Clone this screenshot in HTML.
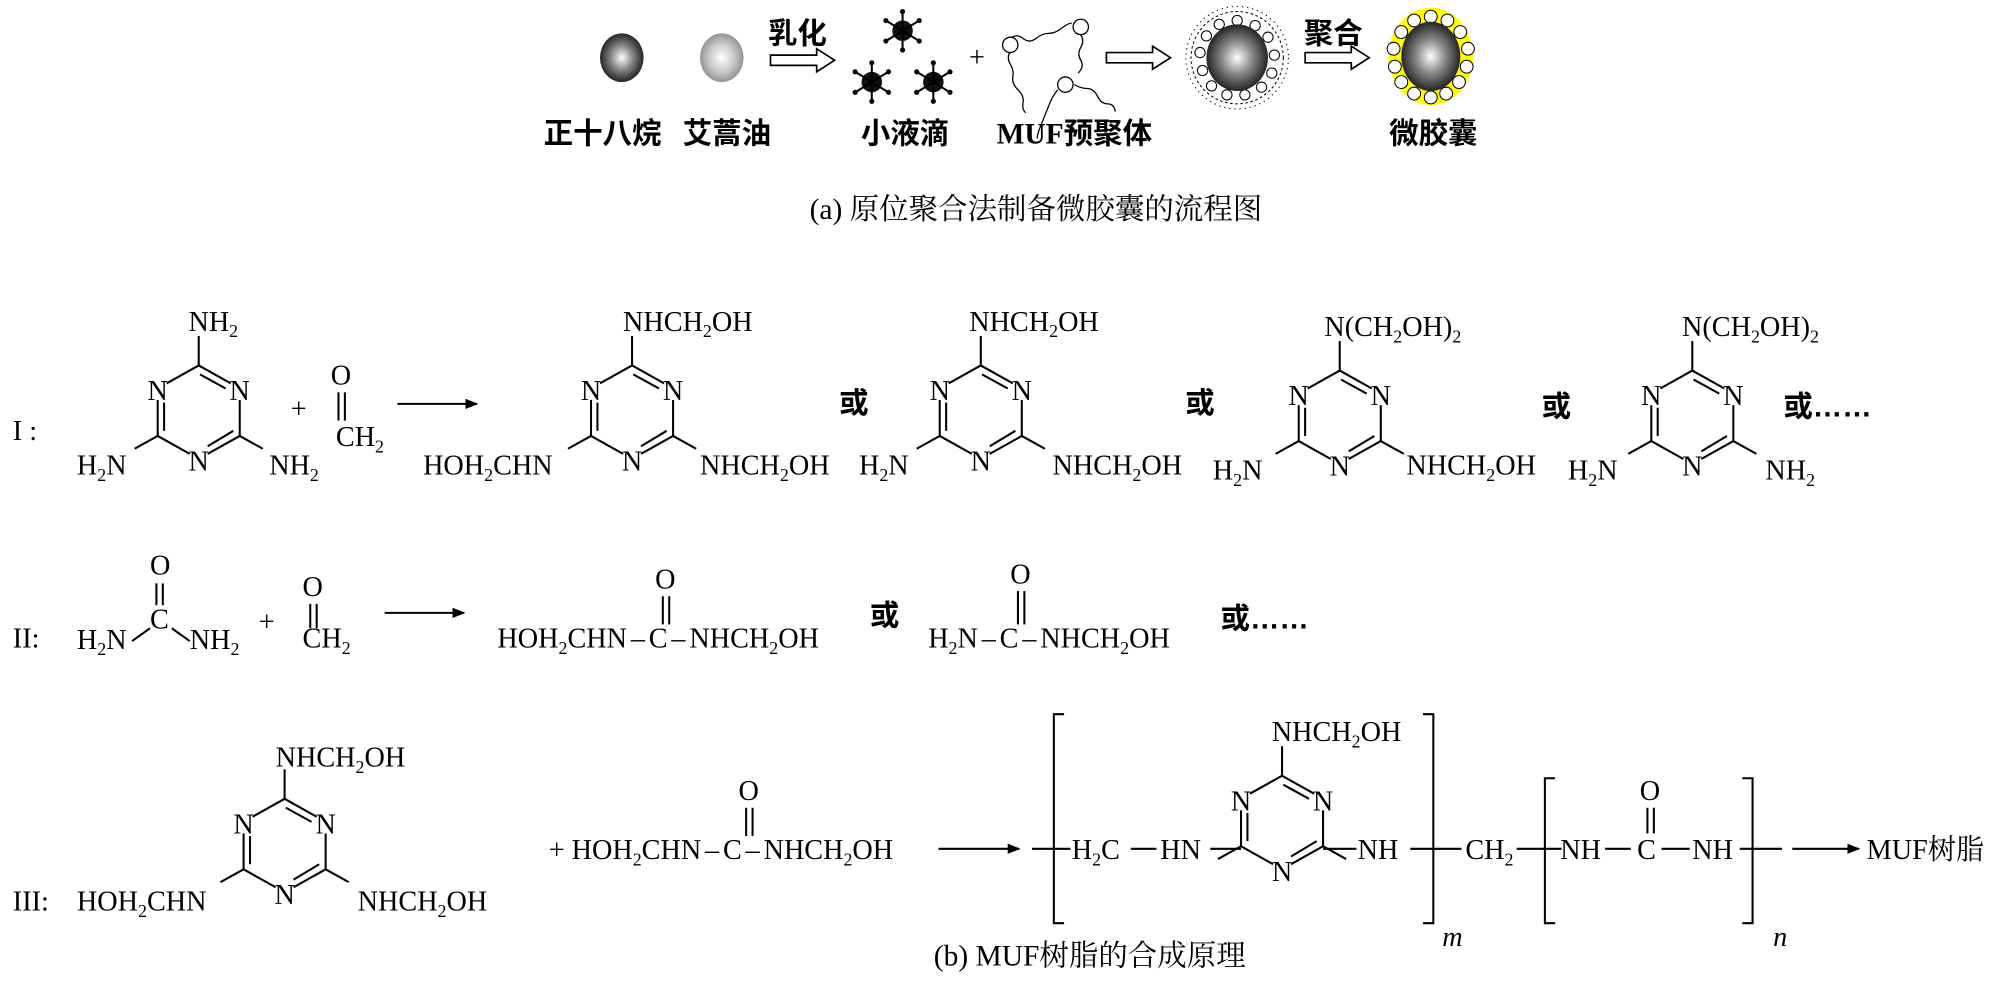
<!DOCTYPE html>
<html><head><meta charset="utf-8"><style>
html,body{margin:0;padding:0;background:#fff;}
svg{display:block;}
text{font-family:"Liberation Serif","Noto Serif CJK SC",serif;fill:#000;}
.c{font-size:22px;}
.cn{font-family:"Liberation Sans","Noto Sans CJK SC",sans-serif;font-weight:bold;font-size:23px;}
.cap{font-family:"Liberation Serif","Noto Serif CJK SC",serif;font-size:23px;}
line,path.b{stroke:#000;stroke-width:1.6;fill:none;}
</style></head><body>
<svg width="2000" height="986" viewBox="0 0 1560 769" preserveAspectRatio="none" xmlns="http://www.w3.org/2000/svg">
<defs>
<radialGradient id="dk" cx="0.5" cy="0.5" r="0.55"><stop offset="0" stop-color="#fff"/><stop offset="0.45" stop-color="#888"/><stop offset="1" stop-color="#111"/></radialGradient>
<radialGradient id="lt" cx="0.5" cy="0.5" r="0.55"><stop offset="0" stop-color="#fff"/><stop offset="0.5" stop-color="#ccc"/><stop offset="1" stop-color="#888"/></radialGradient>
<marker id="ah" markerWidth="10" markerHeight="8" refX="9" refY="4" orient="auto" markerUnits="userSpaceOnUse"><path d="M0,0 L10,4 L0,8 Z" fill="#000"/></marker>
<g id="ring">
<line x1="0" y1="-37" x2="-25" y2="-23"/>
<line x1="0" y1="-37" x2="25" y2="-23"/><line x1="1" y1="-30" x2="21" y2="-19"/>
<line x1="-32" y1="-10" x2="-32" y2="18"/><line x1="-27" y1="-8" x2="-27" y2="14"/>
<line x1="-32" y1="18" x2="-7" y2="32"/>
<line x1="32" y1="18" x2="7" y2="32"/><line x1="27" y1="14" x2="7" y2="26"/>
<line x1="32" y1="18" x2="32" y2="-10"/>
<text class="c" x="-32" y="-10" text-anchor="middle">N</text>
<text class="c" x="32" y="-10" text-anchor="middle">N</text>
<text class="c" x="0" y="45" text-anchor="middle">N</text>
<line x1="0" y1="-37" x2="0" y2="-60"/>
<line x1="-32" y1="18" x2="-50" y2="28"/>
<line x1="32" y1="18" x2="50" y2="28"/>
</g>
<g id="drop"><circle r="8" fill="#111"/>
<g stroke="#000" stroke-width="1.2"><line x1="0" y1="0" x2="0" y2="-15"/><line x1="0" y1="0" x2="0" y2="15"/><line x1="0" y1="0" x2="13" y2="-8"/><line x1="0" y1="0" x2="-13" y2="-8"/><line x1="0" y1="0" x2="13" y2="8"/><line x1="0" y1="0" x2="-13" y2="8"/></g>
<g fill="#000"><circle cx="0" cy="-15" r="2"/><circle cx="0" cy="15" r="2"/><circle cx="13" cy="-8" r="2"/><circle cx="-13" cy="-8" r="2"/><circle cx="13" cy="8" r="2"/><circle cx="-13" cy="8" r="2"/></g></g>
<g id="harrow"><path d="M0,-4 L36,-4 L36,-9 L50,0 L36,9 L36,4 L0,4 Z" fill="#fff" stroke="#000" stroke-width="1.3"/></g>
</defs>

<!-- top flow -->
<ellipse cx="485" cy="45" rx="17" ry="19" fill="url(#dk)"/>
<ellipse cx="563" cy="45" rx="17" ry="19" fill="url(#lt)"/>
<text class="cn" x="599" y="34" font-size="21">乳化</text>
<use href="#harrow" x="601" y="47"/>
<use href="#drop" x="704" y="24"/><use href="#drop" x="680" y="64"/><use href="#drop" x="728" y="64"/>
<text class="c" x="762" y="52" text-anchor="middle" font-size="16">+</text>
<g stroke="#000" stroke-width="1" fill="none">
<path d="M788,30 q5,-4 10,0 t10,0 t10,-4 t10,-4 t8,-4"/>
<path d="M788,40 q-3,5 0,10 t2,10 t4,10 t4,10 t2,8"/>
<path d="M843,27 q3,5 0,10 t0,10 t-2,10"/>
<path d="M825,70 q-4,5 -6,10 t-4,10 t-4,10 t-2,8"/>
<path d="M838,66 q5,3 10,3 t8,6 t8,6 t6,6"/>
</g>
<circle cx="788" cy="35" r="6" fill="#fff" stroke="#000"/>
<circle cx="843" cy="21" r="6" fill="#fff" stroke="#000"/>
<circle cx="831" cy="66" r="6" fill="#fff" stroke="#000"/>
<use href="#harrow" x="863" y="45"/>
<g stroke="#000" stroke-width="0.8" fill="none">
<circle cx="965" cy="45" r="36" stroke-dasharray="2 2"/>
<circle cx="965" cy="45" r="40" stroke-dasharray="1 3"/>
</g>
<g fill="#fff" stroke="#000" stroke-width="0.8">
<circle cx="965" cy="16" r="4"/><circle cx="979" cy="20" r="4"/><circle cx="989" cy="29" r="4"/><circle cx="994" cy="43" r="4"/><circle cx="992" cy="57" r="4"/><circle cx="984" cy="68" r="4"/><circle cx="971" cy="74" r="4"/><circle cx="957" cy="74" r="4"/><circle cx="945" cy="67" r="4"/><circle cx="938" cy="55" r="4"/><circle cx="936" cy="41" r="4"/><circle cx="941" cy="28" r="4"/><circle cx="951" cy="19" r="4"/>
</g>
<ellipse cx="965" cy="45" rx="24" ry="26" fill="url(#dk)"/>
<text class="cn" x="1017" y="34" font-size="21">聚合</text>
<use href="#harrow" x="1018" y="45"/>
<ellipse cx="1116" cy="44" rx="33" ry="38" fill="#ffff00"/>
<g fill="#fff" stroke="#000" stroke-width="0.8">
<circle cx="1116" cy="13" r="5"/><circle cx="1129" cy="16" r="5"/><circle cx="1139" cy="25" r="5"/><circle cx="1145" cy="38" r="5"/><circle cx="1144" cy="52" r="5"/><circle cx="1138" cy="64" r="5"/><circle cx="1128" cy="73" r="5"/><circle cx="1116" cy="76" r="5"/><circle cx="1103" cy="73" r="5"/><circle cx="1093" cy="64" r="5"/><circle cx="1088" cy="52" r="5"/><circle cx="1087" cy="38" r="5"/><circle cx="1093" cy="25" r="5"/><circle cx="1103" cy="16" r="5"/>
</g>
<ellipse cx="1116" cy="44" rx="23" ry="27" fill="url(#dk)"/>
<text class="cn" x="470" y="112" text-anchor="middle">正十八烷</text>
<text class="cn" x="567" y="112" text-anchor="middle">艾蒿油</text>
<text class="cn" x="706" y="112" text-anchor="middle">小液滴</text>
<text class="cn" x="838" y="112" text-anchor="middle" font-weight="normal"><tspan font-family="Liberation Serif">MUF</tspan>预聚体</text>
<text class="cn" x="1118" y="112" text-anchor="middle">微胶囊</text>
<text class="cap" x="808" y="171" text-anchor="middle">(a) 原位聚合法制备微胶囊的流程图</text>

<!-- I -->
<text class="c" x="10" y="343">I :</text>
<use href="#ring" x="155" y="322"/>
<text class="c" x="147" y="258">NH<tspan font-size="14" dy="5">2</tspan></text>
<text class="c" x="60" y="370">H<tspan font-size="14" dy="5">2</tspan><tspan dy="-5">N</tspan></text>
<text class="c" x="210" y="370">NH<tspan font-size="14" dy="5">2</tspan></text>
<text class="c" x="233" y="326" text-anchor="middle" font-size="26">+</text>
<text class="c" x="258" y="300">O</text>
<line x1="264" y1="306" x2="264" y2="328"/><line x1="269" y1="306" x2="269" y2="328"/>
<text class="c" x="262" y="348">CH<tspan font-size="14" dy="5">2</tspan></text>
<line x1="310" y1="315" x2="372" y2="315" marker-end="url(#ah)"/>

<use href="#ring" x="493" y="322"/>
<text class="c" x="486" y="258">NHCH<tspan font-size="14" dy="5">2</tspan><tspan dy="-5">OH</tspan></text>
<text class="c" x="330" y="370">HOH<tspan font-size="14" dy="5">2</tspan><tspan dy="-5">CHN</tspan></text>
<text class="c" x="546" y="370">NHCH<tspan font-size="14" dy="5">2</tspan><tspan dy="-5">OH</tspan></text>
<text class="cn" x="666" y="322" text-anchor="middle">或</text>

<use href="#ring" x="765" y="322"/>
<text class="c" x="756" y="258">NHCH<tspan font-size="14" dy="5">2</tspan><tspan dy="-5">OH</tspan></text>
<text class="c" x="670" y="370">H<tspan font-size="14" dy="5">2</tspan><tspan dy="-5">N</tspan></text>
<text class="c" x="821" y="370">NHCH<tspan font-size="14" dy="5">2</tspan><tspan dy="-5">OH</tspan></text>
<text class="cn" x="936" y="322" text-anchor="middle">或</text>

<use href="#ring" x="1045" y="326"/>
<text class="c" x="1033" y="262">N(CH<tspan font-size="14" dy="5">2</tspan><tspan dy="-5">OH)</tspan><tspan font-size="14" dy="5">2</tspan></text>
<text class="c" x="946" y="374">H<tspan font-size="14" dy="5">2</tspan><tspan dy="-5">N</tspan></text>
<text class="c" x="1097" y="370">NHCH<tspan font-size="14" dy="5">2</tspan><tspan dy="-5">OH</tspan></text>
<text class="cn" x="1214" y="325" text-anchor="middle">或</text>

<use href="#ring" x="1320" y="326"/>
<text class="c" x="1312" y="262">N(CH<tspan font-size="14" dy="5">2</tspan><tspan dy="-5">OH)</tspan><tspan font-size="14" dy="5">2</tspan></text>
<text class="c" x="1223" y="374">H<tspan font-size="14" dy="5">2</tspan><tspan dy="-5">N</tspan></text>
<text class="c" x="1377" y="374">NH<tspan font-size="14" dy="5">2</tspan></text>
<text class="cn" x="1391" y="325">或……</text>

<!-- II -->
<text class="c" x="10" y="505">II:</text>
<text class="c" x="117" y="448">O</text>
<line x1="122" y1="455" x2="122" y2="472"/><line x1="127" y1="455" x2="127" y2="472"/>
<text class="c" x="117" y="490">C</text>
<line x1="117" y1="490" x2="103" y2="500"/><line x1="134" y1="490" x2="148" y2="500"/>
<text class="c" x="60" y="506">H<tspan font-size="14" dy="5">2</tspan><tspan dy="-5">N</tspan></text>
<text class="c" x="148" y="506">NH<tspan font-size="14" dy="5">2</tspan></text>
<text class="c" x="208" y="492" text-anchor="middle" font-size="26">+</text>
<text class="c" x="236" y="465">O</text>
<line x1="242" y1="471" x2="242" y2="490"/><line x1="247" y1="471" x2="247" y2="490"/>
<text class="c" x="236" y="505">CH<tspan font-size="14" dy="5">2</tspan></text>
<line x1="300" y1="478" x2="362" y2="478" marker-end="url(#ah)"/>

<text class="c" x="388" y="505">HOH<tspan font-size="14" dy="5">2</tspan><tspan dy="-5">CHN</tspan><tspan dx="3">–</tspan><tspan dx="3">C</tspan><tspan dx="3">–</tspan><tspan dx="3">NHCH</tspan><tspan font-size="14" dy="5">2</tspan><tspan dy="-5">OH</tspan></text>
<text class="c" x="511" y="459">O</text>
<line x1="517" y1="465" x2="517" y2="487"/><line x1="522" y1="465" x2="522" y2="487"/>
<text class="cn" x="690" y="488" text-anchor="middle">或</text>
<text class="c" x="724" y="505">H<tspan font-size="14" dy="5">2</tspan><tspan dy="-5">N</tspan><tspan dx="3">–</tspan><tspan dx="3">C</tspan><tspan dx="3">–</tspan><tspan dx="3">NHCH</tspan><tspan font-size="14" dy="5">2</tspan><tspan dy="-5">OH</tspan></text>
<text class="c" x="788" y="455">O</text>
<line x1="794" y1="461" x2="794" y2="487"/><line x1="799" y1="461" x2="799" y2="487"/>
<text class="cn" x="952" y="490">或……</text>

<!-- III -->
<text class="c" x="10" y="710">III:</text>
<use href="#ring" x="222" y="660"/>
<text class="c" x="215" y="598">NHCH<tspan font-size="14" dy="5">2</tspan><tspan dy="-5">OH</tspan></text>
<text class="c" x="60" y="710">HOH<tspan font-size="14" dy="5">2</tspan><tspan dy="-5">CHN</tspan></text>
<text class="c" x="279" y="710">NHCH<tspan font-size="14" dy="5">2</tspan><tspan dy="-5">OH</tspan></text>

<text class="c" x="428" y="670">+ HOH<tspan font-size="14" dy="5">2</tspan><tspan dy="-5">CHN</tspan><tspan dx="3">–</tspan><tspan dx="3">C</tspan><tspan dx="3">–</tspan><tspan dx="3">NHCH</tspan><tspan font-size="14" dy="5">2</tspan><tspan dy="-5">OH</tspan></text>
<text class="c" x="576" y="624">O</text>
<line x1="582" y1="630" x2="582" y2="652"/><line x1="587" y1="630" x2="587" y2="652"/>
<line x1="732" y1="662" x2="795" y2="662" marker-end="url(#ah)"/>

<path class="b" d="M830,557 L822,557 L822,720 L830,720"/>
<path class="b" d="M1110,557 L1118,557 L1118,720 L1110,720"/>
<line x1="805" y1="662" x2="835" y2="662"/>
<text class="c" x="836" y="670">H<tspan font-size="14" dy="5">2</tspan><tspan dy="-5">C</tspan></text>
<line x1="882" y1="662" x2="902" y2="662"/>
<text class="c" x="905" y="670">HN</text>
<use href="#ring" x="1000" y="642"/>
<line x1="944" y1="662" x2="968" y2="662"/>
<line x1="1032" y1="662" x2="1058" y2="662"/>
<text class="c" x="992" y="578">NHCH<tspan font-size="14" dy="5">2</tspan><tspan dy="-5">OH</tspan></text>
<text class="c" x="1059" y="670">NH</text>
<line x1="1100" y1="662" x2="1140" y2="662"/>
<text class="c" x="1125" y="738" font-size="13" font-style="italic">m</text>
<text class="c" x="1143" y="670">CH<tspan font-size="14" dy="5">2</tspan></text>
<line x1="1183" y1="662" x2="1218" y2="662"/>
<path class="b" d="M1213,607 L1205,607 L1205,720 L1213,720"/>
<text class="c" x="1217" y="670">NH</text>
<line x1="1252" y1="662" x2="1272" y2="662"/>
<text class="c" x="1277" y="670">C</text>
<text class="c" x="1279" y="624">O</text>
<line x1="1285" y1="630" x2="1285" y2="650"/><line x1="1290" y1="630" x2="1290" y2="650"/>
<line x1="1296" y1="662" x2="1318" y2="662"/>
<text class="c" x="1320" y="670">NH</text>
<path class="b" d="M1359,607 L1367,607 L1367,720 L1359,720"/>
<line x1="1357" y1="662" x2="1390" y2="662"/>
<text class="c" x="1383" y="738" font-size="13" font-style="italic">n</text>
<line x1="1398" y1="662" x2="1450" y2="662" marker-end="url(#ah)"/>
<text class="c" x="1456" y="670">MUF树脂</text>
<text class="cap" x="850" y="753" text-anchor="middle">(b) MUF树脂的合成原理</text>
</svg>
</body></html>
